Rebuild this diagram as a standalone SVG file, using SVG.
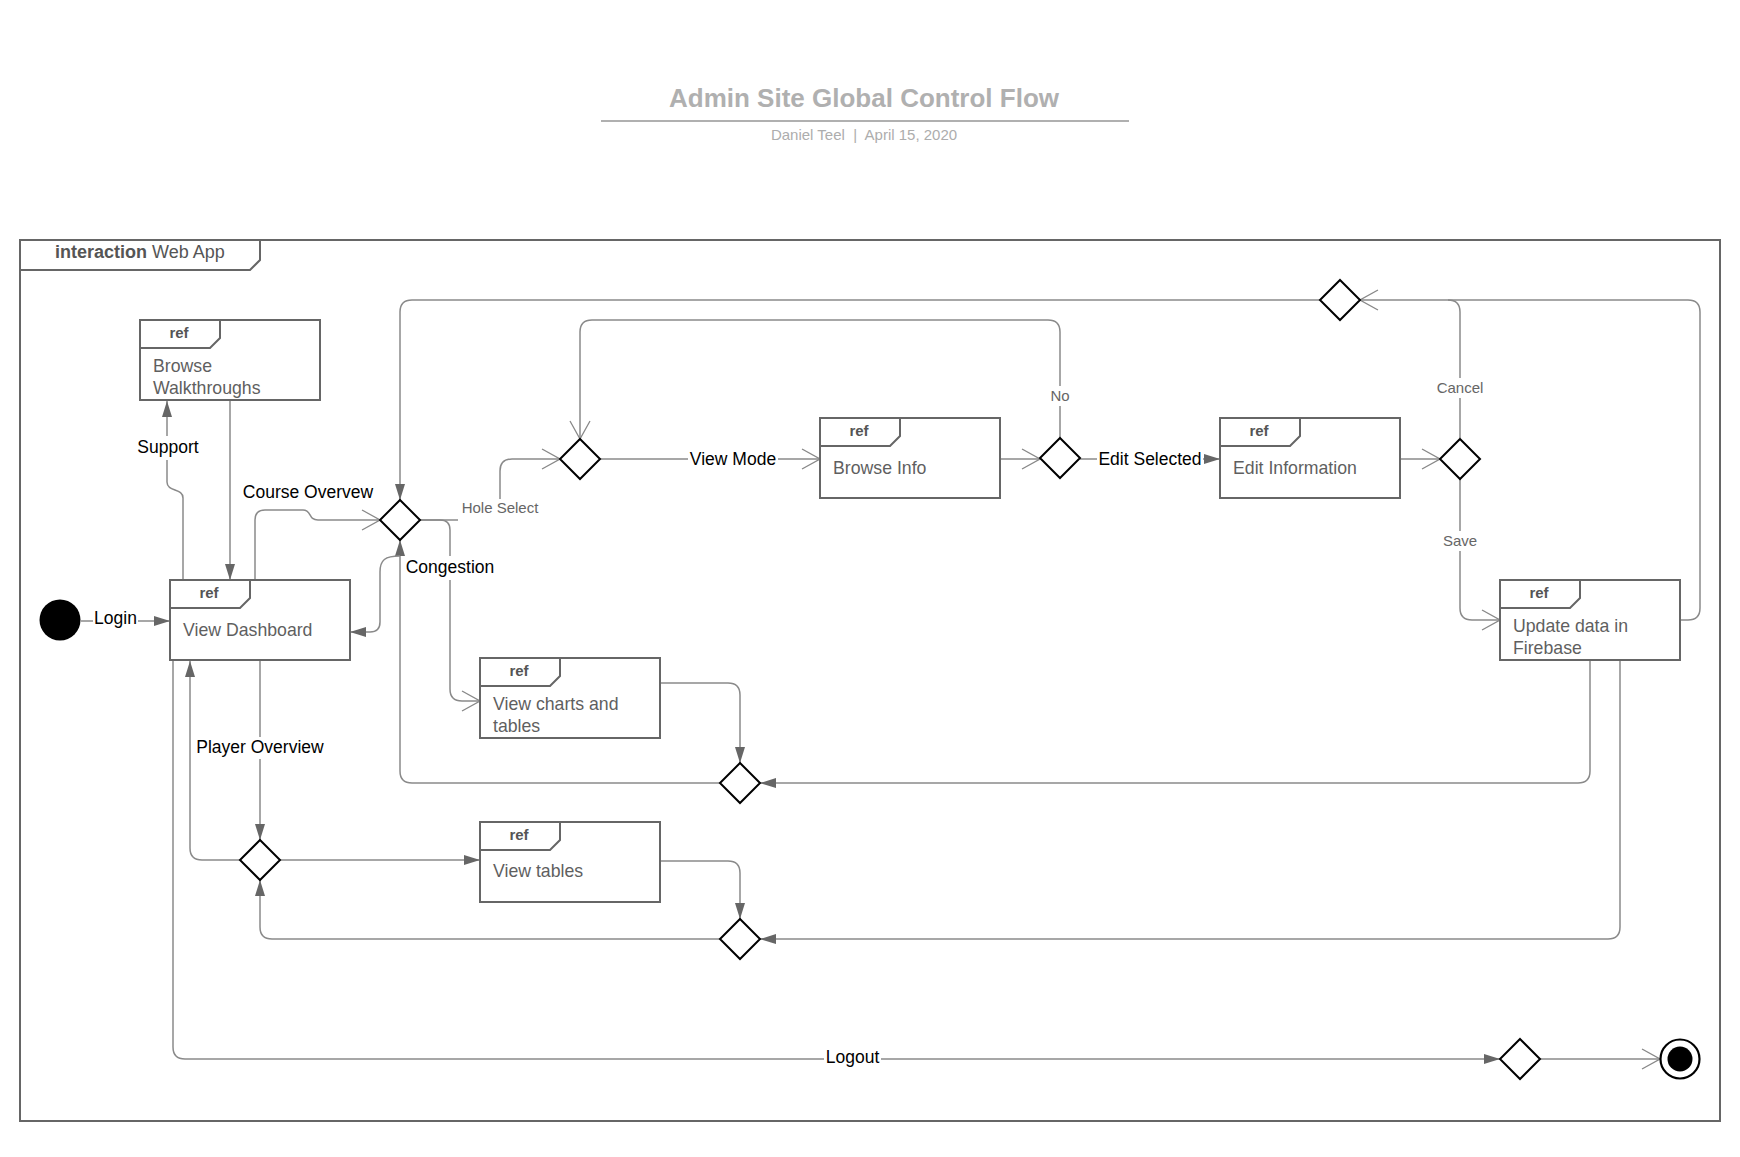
<svg xmlns="http://www.w3.org/2000/svg" width="1740" height="1157" viewBox="0 0 1740 1157">
<defs>
<style>
text{font-family:"Liberation Sans",Arial,sans-serif}
.title{font-size:26px;font-weight:bold;fill:#b0b0b0}
.sub{font-size:15px;fill:#adadad;white-space:pre}
.frame{fill:none;stroke:#666;stroke-width:2}
.box{fill:#fff;stroke:#666;stroke-width:2}
.tab{fill:none;stroke:#666;stroke-width:2}
.ref{font-size:15px;font-weight:bold;fill:#555;text-anchor:middle}
.btxt{font-size:17.7px;fill:#5f5f5f}
.dia{fill:#fff;stroke:#000;stroke-width:2}
.c{fill:none;stroke:#8a8a8a;stroke-width:1.5}
.lbl{font-size:17.5px;fill:#000;text-anchor:middle}
.glbl{font-size:15px;fill:#666;text-anchor:middle}
.bg{fill:#fff}
</style>
<marker id="af" viewBox="0 0 16 10" refX="16" refY="5" markerWidth="16" markerHeight="10" markerUnits="userSpaceOnUse" orient="auto"><path d="M0,0 L16,5 L0,10 z" fill="#666"/></marker>
<marker id="ao" viewBox="0 0 20 22" refX="19" refY="11" markerWidth="20" markerHeight="22" markerUnits="userSpaceOnUse" orient="auto"><path d="M1,1 L19,11 L1,21" fill="none" stroke="#888" stroke-width="1.3"/></marker>
</defs>
<rect width="1740" height="1157" fill="#fff"/>
<g id="header">
<text class="title" x="864" y="107" text-anchor="middle">Admin Site Global Control Flow</text>
<line x1="601" y1="121" x2="1129" y2="121" stroke="#b0b0b0" stroke-width="2"/>
<text class="sub" x="864" y="140" text-anchor="middle">Daniel Teel  |  April 15, 2020</text>
</g>
<g id="frame">
<rect class="frame" x="20" y="240" width="1700" height="881"/>
<path class="frame" d="M20,270 H250 L260,260 V240"/>
<text x="55" y="258" font-size="18" fill="#555"><tspan font-weight="bold">interaction</tspan> Web App</text>
</g>
<g id="connectors">
<path class="c" d="M81,621 H170" marker-end="url(#af)"/>
<path class="c" d="M183,580 V498 C183,488 167,492 167,482 V401" marker-end="url(#af)"/>
<path class="c" d="M230,401 V580" marker-end="url(#af)"/>
<path class="c" d="M255,580 V520 Q255,510 265,510 H303 C312,510 308,520 318,520 H380" marker-end="url(#ao)"/>
<path class="c" d="M1680,620 H1688 Q1700,620 1700,608 V312 Q1700,300 1688,300 H1360" marker-end="url(#ao)"/>
<path class="c" d="M1460,438 V312 Q1460,300 1448,300"/>
<path class="c" d="M1320,300 H412 Q400,300 400,312 V500" marker-end="url(#af)"/>
<path class="c" d="M420,520 H500 V471 Q500,459 512,459 H560" marker-end="url(#ao)"/>
<path class="c" d="M420,520 H440 Q450,520 450,530 V689 Q450,701 462,701 H480" marker-end="url(#ao)"/>
<path class="c" d="M600,459 H820" marker-end="url(#ao)"/>
<path class="c" d="M1000,459 H1040" marker-end="url(#ao)"/>
<path class="c" d="M1060,438 V332 Q1060,320 1048,320 H592 Q580,320 580,332 V439" marker-end="url(#ao)"/>
<path class="c" d="M1080,459 H1220" marker-end="url(#af)"/>
<path class="c" d="M1400,459 H1440" marker-end="url(#ao)"/>
<path class="c" d="M1460,479 V608 Q1460,620 1472,620 H1500" marker-end="url(#ao)"/>
<path class="c" d="M1590,660 V771 Q1590,783 1578,783 H760" marker-end="url(#af)"/>
<path class="c" d="M1620,660 V927 Q1620,939 1608,939 H760" marker-end="url(#af)"/>
<path class="c" d="M660,683 H728 Q740,683 740,695 V763" marker-end="url(#af)"/>
<path class="c" d="M720,783 H412 Q400,783 400,771 V540" marker-end="url(#af)"/>
<path class="c" d="M400,556 C385,556 380,560 380,572 V622 Q380,632 370,632 H350" marker-end="url(#af)"/>
<path class="c" d="M260,660 V840" marker-end="url(#af)"/>
<path class="c" d="M240,860 H202 Q190,860 190,848 V661" marker-end="url(#af)"/>
<path class="c" d="M173,661 V1047 Q173,1059 185,1059 H1500" marker-end="url(#af)"/>
<path class="c" d="M280,860 H480" marker-end="url(#af)"/>
<path class="c" d="M660,861 H728 Q740,861 740,873 V919" marker-end="url(#af)"/>
<path class="c" d="M720,939 H272 Q260,939 260,927 V880" marker-end="url(#af)"/>
<path class="c" d="M1540,1059 H1660" marker-end="url(#ao)"/>
</g>
<g id="labels">
<rect class="bg" x="93" y="608" width="45" height="22"/><text class="lbl" x="115.5" y="624">Login</text>
<rect class="bg" x="136" y="436" width="64" height="24"/><text class="lbl" x="168" y="453">Support</text>
<text class="lbl" x="308" y="498">Course Overvew</text>
<rect class="bg" x="458" y="499" width="84" height="24"/><text class="glbl" x="500" y="513">Hole Select</text>
<rect class="bg" x="403" y="556" width="93" height="24"/><text class="lbl" x="450" y="573">Congestion</text>
<rect class="bg" x="688" y="447" width="90" height="22"/><text class="lbl" x="733" y="465">View Mode</text>
<rect class="bg" x="1049" y="386" width="22" height="20"/><text class="glbl" x="1060" y="401">No</text>
<rect class="bg" x="1097" y="447" width="106" height="22"/><text class="lbl" x="1150" y="465">Edit Selected</text>
<rect class="bg" x="1434" y="378" width="52" height="20"/><text class="glbl" x="1460" y="393">Cancel</text>
<rect class="bg" x="1441" y="531" width="38" height="20"/><text class="glbl" x="1460" y="546">Save</text>
<rect class="bg" x="193" y="737" width="134" height="22"/><text class="lbl" x="260" y="753">Player Overview</text>
<rect class="bg" x="824" y="1047" width="57" height="22"/><text class="lbl" x="852.5" y="1063">Logout</text>
</g>
<g id="start"><circle cx="60" cy="620" r="20.5" fill="#000"/></g>
<g id="browse-walkthroughs">
<rect class="box" x="140" y="320" width="180" height="80"/>
<path class="tab" d="M140,348 H210 L220,338 V320"/>
<text class="ref" x="179" y="338">ref</text>
<text class="btxt" x="153" y="372">Browse</text>
<text class="btxt" x="153" y="394">Walkthroughs</text>
</g>
<g id="view-dashboard">
<rect class="box" x="170" y="580" width="180" height="80"/>
<path class="tab" d="M170,608 H240 L250,598 V580"/>
<text class="ref" x="209" y="598">ref</text>
<text class="btxt" x="183" y="636">View Dashboard</text>
</g>
<g id="browse-info">
<rect class="box" x="820" y="418" width="180" height="80"/>
<path class="tab" d="M820,446 H890 L900,436 V418"/>
<text class="ref" x="859" y="436">ref</text>
<text class="btxt" x="833" y="474">Browse Info</text>
</g>
<g id="edit-information">
<rect class="box" x="1220" y="418" width="180" height="80"/>
<path class="tab" d="M1220,446 H1290 L1300,436 V418"/>
<text class="ref" x="1259" y="436">ref</text>
<text class="btxt" x="1233" y="474">Edit Information</text>
</g>
<g id="update-firebase">
<rect class="box" x="1500" y="580" width="180" height="80"/>
<path class="tab" d="M1500,608 H1570 L1580,598 V580"/>
<text class="ref" x="1539" y="598">ref</text>
<text class="btxt" x="1513" y="632">Update data in</text>
<text class="btxt" x="1513" y="654">Firebase</text>
</g>
<g id="view-charts">
<rect class="box" x="480" y="658" width="180" height="80"/>
<path class="tab" d="M480,686 H550 L560,676 V658"/>
<text class="ref" x="519" y="676">ref</text>
<text class="btxt" x="493" y="710">View charts and</text>
<text class="btxt" x="493" y="732">tables</text>
</g>
<g id="view-tables">
<rect class="box" x="480" y="822" width="180" height="80"/>
<path class="tab" d="M480,850 H550 L560,840 V822"/>
<text class="ref" x="519" y="840">ref</text>
<text class="btxt" x="493" y="877">View tables</text>
</g>
<g id="d1"><polygon class="dia" points="400,500 420,520 400,540 380,520"/></g>
<g id="d2"><polygon class="dia" points="580,439 600,459 580,479 560,459"/></g>
<g id="d3"><polygon class="dia" points="1060,438 1080,458 1060,478 1040,458"/></g>
<g id="d4"><polygon class="dia" points="1460,439 1480,459 1460,479 1440,459"/></g>
<g id="d5"><polygon class="dia" points="1340,280 1360,300 1340,320 1320,300"/></g>
<g id="d6"><polygon class="dia" points="740,763 760,783 740,803 720,783"/></g>
<g id="d7"><polygon class="dia" points="740,919 760,939 740,959 720,939"/></g>
<g id="d8"><polygon class="dia" points="260,840 280,860 260,880 240,860"/></g>
<g id="d9"><polygon class="dia" points="1520,1039 1540,1059 1520,1079 1500,1059"/></g>
<g id="end">
<circle cx="1680" cy="1059" r="19.5" fill="#fff" stroke="#000" stroke-width="2.2"/>
<circle cx="1680" cy="1059" r="12.5" fill="#000"/>
</g>
</svg>
